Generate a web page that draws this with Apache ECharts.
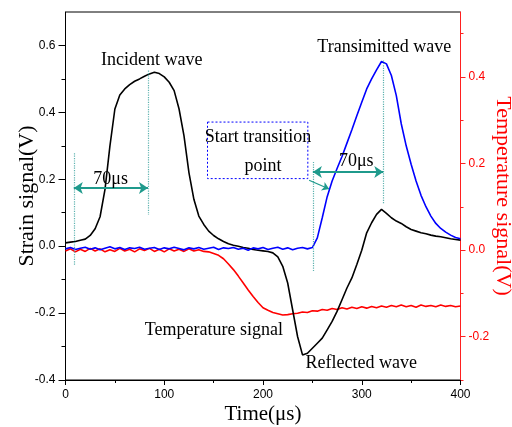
<!DOCTYPE html>
<html><head><meta charset="utf-8">
<script src="https://cdn.jsdelivr.net/npm/echarts@6/dist/echarts.min.js"></script>
<style>html,body{margin:0;padding:0;background:#fff}#c{width:512px;height:427px}</style>
</head><body><div id="c"></div>
<script>
// ---- data ----
const times = [0,5,10,15,20,25,30,35,40,45,50,55,60,65,70,75,80,85,90,95,
  100,105,110,115,120,125,130,135,140,145,150,155,160,165,170,175,180,185,190,195,
  200,205,210,215,220,225,230,235,240,245,250,255,260,265,270,275,280,285,290,295,
  300,305,310,315,320,325,330,335,340,345,350,355,360,365,370,375,380,385,390,395,400];
// black: incident + reflected (left axis)
const strainSignal = [0.010,0.012,0.014,0.018,0.021,0.032,0.052,0.088,0.170,0.300,
  0.410,0.452,0.470,0.483,0.493,0.500,0.508,0.515,0.520,0.516,
  0.506,0.490,0.465,0.410,0.330,0.220,0.140,0.090,0.065,0.045,
  0.032,0.022,0.014,0.007,0.003,0.000,-0.004,-0.006,-0.010,-0.012,
  -0.014,-0.016,-0.020,-0.032,-0.060,-0.110,-0.190,-0.270,-0.325,-0.320,
  -0.305,-0.290,-0.275,-0.250,-0.225,-0.195,-0.160,-0.125,-0.095,-0.055,
  -0.012,0.040,0.070,0.095,0.110,0.098,0.085,0.075,0.068,0.058,
  0.050,0.045,0.040,0.037,0.033,0.030,0.028,0.025,0.022,0.020,0.018];
// blue: transmitted (left axis)
const transmittedSignal = [-0.008,-0.004,-0.010,-0.006,-0.003,-0.009,-0.005,-0.011,-0.006,-0.002,
  -0.008,-0.004,-0.010,-0.005,-0.007,-0.003,-0.009,-0.006,-0.004,-0.010,
  -0.005,-0.008,-0.003,-0.007,-0.011,-0.005,-0.008,-0.004,-0.009,-0.006,
  -0.003,-0.010,-0.005,-0.007,-0.004,-0.009,-0.006,-0.012,-0.005,-0.008,
  -0.004,-0.010,-0.006,-0.003,-0.009,-0.005,-0.011,-0.006,-0.004,-0.008,
  -0.004,0.025,0.085,0.148,0.195,0.232,0.268,0.308,0.348,0.390,
  0.430,0.470,0.500,0.527,0.552,0.545,0.510,0.450,0.366,0.300,
  0.245,0.195,0.152,0.118,0.090,0.068,0.053,0.042,0.033,0.026,0.022];
// red: temperature (right axis)
const temperatureSignal = [-0.002,0.003,-0.004,0.002,-0.003,0.004,-0.002,0.003,-0.004,0.001,
  -0.003,0.004,-0.002,0.002,-0.004,0.003,-0.001,0.004,-0.003,0.002,
  -0.004,0.003,-0.002,0.002,-0.003,0.003,-0.002,0.001,-0.003,-0.004,
  -0.008,-0.012,-0.020,-0.032,-0.045,-0.060,-0.076,-0.092,-0.107,-0.121,
  -0.133,-0.139,-0.144,-0.147,-0.150,-0.149,-0.147,-0.146,-0.143,-0.144,
  -0.140,-0.141,-0.137,-0.139,-0.135,-0.137,-0.133,-0.136,-0.132,-0.135,
  -0.131,-0.134,-0.130,-0.133,-0.129,-0.132,-0.128,-0.131,-0.127,-0.131,
  -0.128,-0.132,-0.127,-0.130,-0.128,-0.131,-0.127,-0.130,-0.128,-0.131,-0.129];

const strainTicks = [-0.4,-0.2,0,0.2,0.4,0.6];
const strainMinorTicks = [-0.3,-0.1,0.1,0.3,0.5];
const tempTicks = [-0.2,0,0.2,0.4];
const tempMinorTicks = [-0.3,-0.1,0.1,0.3,0.5];

// annotation anchors in data coordinates (time, strain)
const labels = [
  {text:'Incident wave', t:87.3, v:0.555},
  {text:'Transimitted wave', t:322.8, v:0.594},
  {text:'Start transition', t:195, v:0.325},
  {text:'point', t:200, v:0.239},
  {text:'70\u03bcs', t:45.7, v:0.200},
  {text:'70\u03bcs', t:294.4, v:0.254},
  {text:'Temperature signal', t:150.3, v:-0.250},
  {text:'Reflected wave', t:299.5, v:-0.349}
];
const boxCorners = [[143.8,0.371],[245.4,0.202]];

const teal = '#1f9a8c';
const tealLight = '#5fb3b0';
const serif = 'Liberation Serif';
const sans = 'Liberation Sans';

const chart = echarts.init(document.getElementById('c'));
const pair = arr => times.map((t,i)=>[t, arr[i]]);

function yAxisBase(extra){
  return Object.assign({
    type:'value', min:-0.4, max:0.7, position:'left',
    splitLine:{show:false},
    axisLine:{onZero:false, show:true, lineStyle:{color:'#000', width:1}},
  }, extra);
}

chart.setOption({
  animation:false,
  backgroundColor:'#fff',
  grid:{left:65.5, right:51.5, top:12, bottom:47, show:true, borderColor:'#000', borderWidth:1,
    containLabel:false, outerBoundsMode:'none'},
  xAxis:{
    type:'value', min:0, max:400, interval:100,
    name:'Time(\u03bcs)', nameLocation:'middle', nameGap:24, nameMoveOverlap:false,
    nameTextStyle:{fontFamily:serif, fontSize:21, color:'#000'},
    axisLine:{onZero:false, lineStyle:{color:'#000'}},
    axisTick:{length:5, lineStyle:{color:'#000'}},
    minorTick:{show:true, splitNumber:2, length:3, lineStyle:{color:'#000'}},
    axisLabel:{fontFamily:sans, fontSize:12, color:'#000', margin:9},
    splitLine:{show:false}
  },
  yAxis:[
    yAxisBase({
      name:'Strain signal(V)', nameLocation:'middle', nameGap:27, nameMoveOverlap:false,
      nameTextStyle:{fontFamily:serif, fontSize:22, color:'#000'},
      axisTick:{length:7, customValues:strainTicks, lineStyle:{color:'#000'}},
      axisLabel:{customValues:strainTicks, fontFamily:sans, fontSize:12, color:'#000', margin:10,
        formatter:v=>v.toFixed(1)}
    }),
    yAxisBase({
      axisLine:{show:false, onZero:false},
      axisTick:{length:4, customValues:strainMinorTicks, lineStyle:{color:'#000'}},
      axisLabel:{show:false}
    }),
    {
      type:'value', min:-0.3, max:0.55, position:'right',
      name:'Temperature signal(V)', nameLocation:'middle', nameGap:31, nameRotate:-90, nameMoveOverlap:false,
      nameTextStyle:{fontFamily:serif, fontSize:22, color:'#ff0000'},
      splitLine:{show:false},
      axisLine:{onZero:false, show:true, lineStyle:{color:'#ff2020', width:1}},
      axisTick:{length:5, customValues:tempTicks, lineStyle:{color:'#ff2020'}},
      axisLabel:{customValues:tempTicks, fontFamily:sans, fontSize:12, color:'#ff0000', margin:8,
        formatter:v=>v.toFixed(1)}
    },
    {
      type:'value', min:-0.3, max:0.55, position:'right',
      splitLine:{show:false},
      axisLine:{show:false, onZero:false},
      axisTick:{length:3, customValues:tempMinorTicks, lineStyle:{color:'#ff2020'}},
      axisLabel:{show:false}
    }
  ],
  series:[
    {
      type:'line', name:'strain', data:pair(strainSignal), yAxisIndex:0,
      showSymbol:false, symbol:'none', lineStyle:{color:'#000', width:1.6}, z:3,
      markLine:{
        silent:true, animation:false, label:{show:false},
        symbol:['none','none'], symbolSize:9,
        data:[
          [{coord:[8.4,0.278], lineStyle:{type:'dotted', color:tealLight, width:1.2}},{coord:[8.4,-0.057]}],
          [{coord:[83.5,0.525], lineStyle:{type:'dotted', color:tealLight, width:1.2}},{coord:[83.5,0.093]}],
          [{coord:[250.5,0.252], lineStyle:{type:'dotted', color:tealLight, width:1.2}},{coord:[250.5,-0.077]}],
          [{coord:[321.8,0.555], lineStyle:{type:'dotted', color:tealLight, width:1.2}},{coord:[321.8,0.128]}],
          [{coord:[8.4,0.174], symbol:'arrow', lineStyle:{type:'solid', color:teal, width:2}},{coord:[83.5,0.174], symbol:'arrow'}],
          [{coord:[250.5,0.222], symbol:'arrow', lineStyle:{type:'solid', color:teal, width:2}},{coord:[321.8,0.222], symbol:'arrow'}],
          [{coord:[246.7,0.197], symbol:'none', lineStyle:{type:'solid', color:teal, width:1.3}},{coord:[267,0.171], symbol:'arrow', symbolSize:7}]
        ]
      }
    },
    {type:'line', name:'temperature', data:pair(temperatureSignal), yAxisIndex:2,
      showSymbol:false, symbol:'none', lineStyle:{color:'#ff0000', width:1.6}, z:2},
    {type:'line', name:'transmitted', data:pair(transmittedSignal), yAxisIndex:0,
      showSymbol:false, symbol:'none', lineStyle:{color:'#0000ff', width:1.6}, z:4}
  ]
});

const px = (t,v) => chart.convertToPixel({xAxisIndex:0, yAxisIndex:0}, [t,v]);
const g = [];
const b0 = px(boxCorners[0][0], boxCorners[0][1]);
const b1 = px(boxCorners[1][0], boxCorners[1][1]);
g.push({type:'rect', shape:{x:b0[0], y:b0[1], width:b1[0]-b0[0], height:b1[1]-b0[1]},
  style:{fill:'rgba(0,0,0,0)', stroke:'#0000ff', lineWidth:1, lineDash:[2,2]}, z:10});
labels.forEach(l=>{
  const p = px(l.t, l.v);
  g.push({type:'text', x:p[0], y:p[1], z:11,
    style:{text:l.text, fontFamily:serif, fontSize:18, fill:'#000', align:'center', verticalAlign:'middle'}});
});
chart.setOption({graphic:g});
</script>
</body></html>
